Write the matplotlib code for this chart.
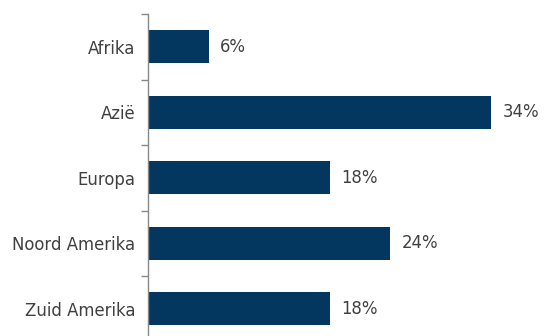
import matplotlib.pyplot as plt
import numpy as np

plt.rcParams["font.family"] = ["DejaVu Sans"]

regions = ["Afrika", "Azië", "Europa", "Noord Amerika", "Zuid Amerika"]
shares = [6, 34, 18, 24, 18]

BAR_COLOR = "#03375f"
TEXT_COLOR = "#404040"

W, H = 544, 336
fig = plt.figure(figsize=(W / 100, H / 100), dpi=100)
ax = fig.add_axes([148 / W, 1 - 341.5 / H, 392 / W, 327.5 / H])

y = np.arange(len(regions))
ax.barh(y, shares, height=0.5, color=BAR_COLOR)
for yi, v in zip(y, shares):
    ax.text(v + 1.15, yi, f"{v}%", va="center", ha="left",
            fontsize=11.9, color=TEXT_COLOR)

ax.set_xlim(0, 392 / 10.1)
ax.set_ylim(len(regions) - 0.5, -0.5)
ax.set_yticks(y)
ax.set_yticklabels(regions)
ax.set_yticks(np.arange(-0.5, len(regions), 1.0), minor=True)
ax.tick_params(axis="y", which="major", length=0, pad=9,
               labelsize=11.9, labelcolor=TEXT_COLOR)
ax.tick_params(axis="y", which="minor", length=5, width=1, color="#888888")
ax.set_xticks([])

for side in ("top", "right", "bottom"):
    ax.spines[side].set_visible(False)
ax.spines["left"].set_color("#888888")
ax.spines["left"].set_linewidth(1)

fig.savefig("out.png", dpi=100)
